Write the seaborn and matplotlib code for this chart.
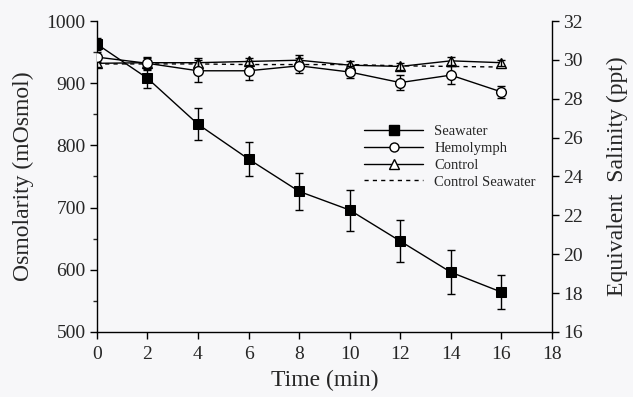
import numpy as np
import pandas as pd
import matplotlib
matplotlib.use("Agg")
import matplotlib.pyplot as plt
from matplotlib.ticker import MultipleLocator
from matplotlib.lines import Line2D
import seaborn as sns

# ---- data ----
time_min = [0, 2, 4, 6, 8, 10, 12, 14, 16]
seawater = [963, 908, 834, 778, 726, 696, 646, 596, 564]
seawater_err = [10, 15, 26, 27, 30, 33, 34, 35, 27]
hemolymph = [942, 932, 920, 920, 928, 918, 901, 913, 886]
hemolymph_err = [8, 10, 18, 15, 12, 10, 12, 15, 10]
control = [932, 933, 933, 935, 937, 929, 927, 936, 933]
control_err = [6, 8, 8, 6, 8, 6, 6, 6, 5]
control_seawater = [931, 931, 931, 930, 930, 930, 928, 927, 926]

x_ticks = [0, 2, 4, 6, 8, 10, 12, 14, 16, 18]
left_ticks = [500, 600, 700, 800, 900, 1000]
right_ticks = [16, 18, 20, 22, 24, 26, 28, 30, 32]

sns.set_theme(style="ticks")
plt.rcParams["font.family"] = ["Liberation Serif", "DejaVu Serif"]
bg = "#f7f7f9"

fig = plt.figure(figsize=(6.33, 3.97), dpi=100, facecolor=bg)
ax = fig.add_axes([0.153, 0.164, 0.719, 0.783])
ax.set_facecolor(bg)

df = pd.DataFrame({"time": time_min, "sw": seawater, "hl": hemolymph,
                   "ct": control, "cs": control_seawater})

lw = 1.0
sns.lineplot(data=df, x="time", y="cs", ax=ax, color="black", lw=1.0,
             linestyle=(0, (3, 3)), zorder=2)
sns.lineplot(data=df, x="time", y="ct", ax=ax, color="black", lw=lw,
             marker="^", markersize=6.5, markerfacecolor="white",
             markeredgecolor="black", markeredgewidth=1.0, zorder=3)
sns.lineplot(data=df, x="time", y="hl", ax=ax, color="black", lw=lw,
             marker="o", markersize=7, markerfacecolor="white",
             markeredgecolor="black", markeredgewidth=1.0, zorder=4)
sns.lineplot(data=df, x="time", y="sw", ax=ax, color="black", lw=lw,
             marker="s", markersize=7.5, markerfacecolor="black",
             markeredgecolor="black", zorder=5)

for y, e in [(control, control_err), (hemolymph, hemolymph_err), (seawater, seawater_err)]:
    ax.errorbar(time_min, y, yerr=e, fmt="none", ecolor="black",
                elinewidth=1.0, capsize=3, capthick=1.0, zorder=3)

ax.set_xlim(0, 18)
ax.set_ylim(500, 1000)
ax.set_xticks(x_ticks)
ax.set_yticks(left_ticks)
ax.yaxis.set_minor_locator(MultipleLocator(50))
ax.set_xlabel("Time (min)", fontsize=17, labelpad=5)
ax.set_ylabel("Osmolarity (mOsmol)", fontsize=17, labelpad=9)
ax.tick_params(axis="both", which="major", labelsize=14, length=5,
               width=1.0, direction="out", color="black", pad=3)
ax.tick_params(axis="x", which="major", pad=5)
ax.tick_params(axis="y", which="minor", length=3, width=1.0, direction="out")
for s in ["left", "bottom"]:
    ax.spines[s].set_color("black")
    ax.spines[s].set_linewidth(1.0)
ax.spines["top"].set_visible(False)
ax.spines["right"].set_visible(False)

ax2 = ax.twinx()
ax2.set_ylim(16, 32)
ax2.set_yticks(right_ticks)
ax2.tick_params(axis="y", labelsize=14, length=5, width=1.0,
                direction="out", color="black", pad=3)
ax2.set_ylabel("Equivalent  Salinity (ppt)", fontsize=17, labelpad=17)
ax2.spines["right"].set_color("black")
ax2.spines["right"].set_linewidth(1.0)
for s in ["top", "left", "bottom"]:
    ax2.spines[s].set_visible(False)

handles = [
    Line2D([], [], color="black", lw=lw, marker="s", markersize=7,
           markerfacecolor="black"),
    Line2D([], [], color="black", lw=lw, marker="o", markersize=6.5,
           markerfacecolor="white"),
    Line2D([], [], color="black", lw=lw, marker="^", markersize=6.5,
           markerfacecolor="white"),
    Line2D([], [], color="black", lw=1.0, linestyle=(0, (3, 3))),
]
labels = ["Seawater", "Hemolymph", "Control", "Control Seawater"]
ax.legend(handles, labels, loc="upper left", bbox_to_anchor=(0.575, 0.685),
          frameon=False, fontsize=10.5, handlelength=4.0, handletextpad=0.8,
          labelspacing=0.25, borderaxespad=0)

fig.savefig("out.png", dpi=100, facecolor=bg)
